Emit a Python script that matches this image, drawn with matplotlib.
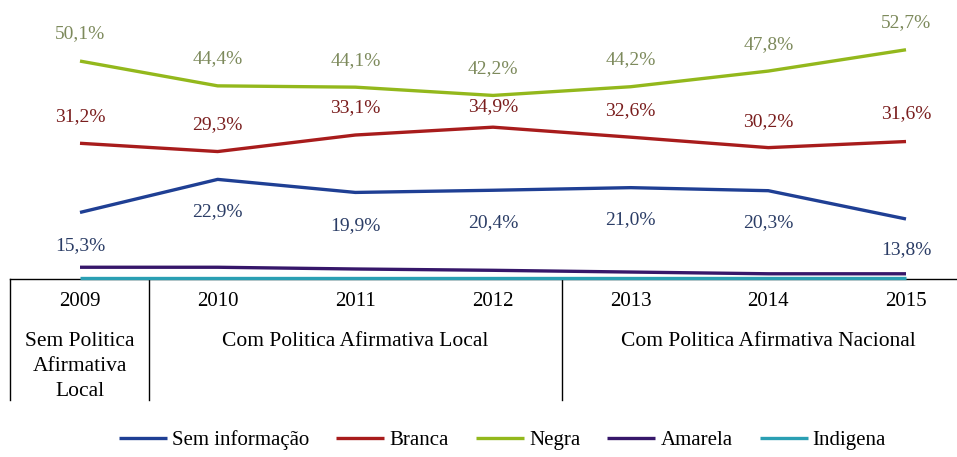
import matplotlib
matplotlib.use("Agg")
import matplotlib.pyplot as plt

years = ["2009", "2010", "2011", "2012", "2013", "2014", "2015"]
sem_info = [15.3, 22.9, 19.9, 20.4, 21.0, 20.3, 13.8]
branca = [31.2, 29.3, 33.1, 34.9, 32.6, 30.2, 31.6]
negra = [50.1, 44.4, 44.1, 42.2, 44.2, 47.8, 52.7]
amarela = [2.7, 2.7, 2.3, 2.0, 1.6, 1.2, 1.2]
indigena = [0.3, 0.3, 0.3, 0.3, 0.3, 0.3, 0.3]
series_names = ["Sem informação", "Branca", "Negra", "Amarela", "Indigena"]
groups = ["Sem Politica\nAfirmativa\nLocal", "Com Politica Afirmativa Local",
          "Com Politica Afirmativa Nacional"]
group_centers = [0, 2, 5]
group_dividers = [0.5, 3.5]

plt.rcParams['font.family'] = ['Liberation Serif', 'DejaVu Serif']

W, H = 957, 457
fig = plt.figure(figsize=(W / 100, H / 100), dpi=100)
ax_left, ax_right = 10, 957
ax_top, ax_bot = 0, 279
ax = fig.add_axes([ax_left / W, 1 - ax_bot / H, (ax_right - ax_left) / W, (ax_bot - ax_top) / H])

x = list(range(len(years)))
pxu = (906 - 80) / 6
ax.set_xlim(-(80 - ax_left) / pxu, (ax_right - 80) / pxu)
ax.set_ylim(0, 279 / 4.35)

cols = {"Sem informação": "#1f3f94", "Branca": "#a81c1c", "Negra": "#93b81c",
        "Amarela": "#36176a", "Indigena": "#2a9fb3"}
lab_cols = {"Sem informação": "#2b3d66", "Branca": "#7a1e1e", "Negra": "#7d8a5c"}
data = [sem_info, branca, negra, amarela, indigena]

handles = []
for name, vals in zip(series_names, data):
    ln, = ax.plot(x, vals, color=cols[name], lw=2.4, solid_capstyle='butt', clip_on=False, zorder=3)
    handles.append(ln)

def fmt(v):
    return f"{v:.1f}%".replace(".", ",")

label_offsets = {
    "Negra": [27, 27, 27, 27, 27, 26, 27],
    "Branca": [27, 27, 27, 21, 27, 26, 28],
    "Sem informação": [-33, -32, -33, -32, -32, -32, -31],
}
for name, vals in [("Negra", negra), ("Branca", branca), ("Sem informação", sem_info)]:
    for xi, v, off in zip(x, vals, label_offsets[name]):
        ax.annotate(fmt(v), (xi, v), xytext=(0, off * 0.72), textcoords='offset points',
                    ha='center', va='center', fontsize=14, color=lab_cols[name])

for s in ["top", "right", "left"]:
    ax.spines[s].set_visible(False)
ax.spines["bottom"].set_color("black")
ax.spines["bottom"].set_linewidth(1.0)
ax.set_xticks([])
ax.set_yticks([])

trans = ax.get_xaxis_transform()
def yfrac(py):
    return (ax_bot - py) / (ax_bot - ax_top)

table_bottom = yfrac(400)
for xd in [ax.get_xlim()[0]] + group_dividers:
    ax.plot([xd, xd], [0, table_bottom], transform=trans, color='black', lw=1.0, clip_on=False)

for xi, yl in zip(x, years):
    ax.text(xi, yfrac(301), yl, transform=trans, ha='center', va='center', fontsize=15)

for gc, g in zip(group_centers, groups):
    ax.text(gc, yfrac(332), g, transform=trans, ha='center', va='top', fontsize=15.5, linespacing=1.42)

fig.legend(handles, series_names, loc='center', bbox_to_anchor=(0.525, 1 - 440 / H), ncol=5,
           frameon=False, fontsize=15, handlelength=2.3, handletextpad=0.25, columnspacing=1.3)

fig.savefig("out.png", dpi=100)
